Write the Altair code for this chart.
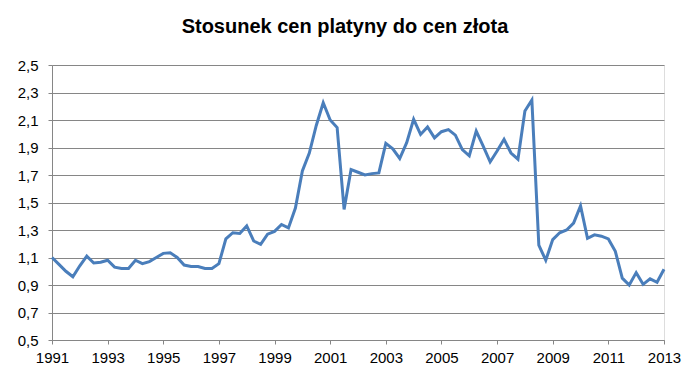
import altair as alt
import pandas as pd

title_text = "Stosunek cen platyny do cen złota"

start_year = 1991
# quarterly ratio values, 1991 Q1 .. 2013 Q1
ratio = [
    1.10, 1.05, 1.00, 0.96,
    1.04, 1.11, 1.06, 1.065,
    1.08, 1.03, 1.02, 1.02,
    1.08, 1.055, 1.07, 1.10,
    1.13, 1.135, 1.10, 1.045,
    1.035, 1.035, 1.02, 1.02,
    1.055, 1.235, 1.28, 1.275,
    1.33, 1.22, 1.195, 1.27,
    1.29, 1.34, 1.315, 1.46,
    1.73, 1.86, 2.06, 2.225,
    2.10, 2.045, 1.45, 1.74,
    1.72, 1.70, 1.71, 1.715,
    1.93, 1.89, 1.82, 1.935,
    2.105, 1.995, 2.05, 1.97,
    2.015, 2.03, 1.99, 1.885,
    1.84, 2.02, 1.91, 1.795,
    1.875, 1.96, 1.86, 1.815,
    2.165, 2.245, 1.19, 1.08,
    1.23, 1.28, 1.30, 1.35,
    1.475, 1.24, 1.265, 1.255,
    1.235, 1.145, 0.95, 0.90,
    0.99, 0.905, 0.945, 0.92,
    1.015,
]
x_ticks = [1991, 1993, 1995, 1997, 1999, 2001, 2003, 2005, 2007, 2009, 2011, 2013]
y_ticks = [0.5, 0.7, 0.9, 1.1, 1.3, 1.5, 1.7, 1.9, 2.1, 2.3, 2.5]

df = pd.DataFrame({
    "t": [start_year + i / 4 for i in range(len(ratio))],
    "v": ratio,
})

font = "Liberation Sans"
grey = "#868686"

chart = alt.Chart(df).mark_line(color="#4a7ebb", strokeWidth=3).encode(
    x=alt.X("t:Q",
            scale=alt.Scale(domain=[1991, 2013], nice=False),
            axis=alt.Axis(values=x_ticks, format="d", grid=False, title=None,
                          domainColor=grey, tickColor=grey, tickSize=4,
                          labelFont=font, labelFontSize=15, labelColor="#000000",
                          labelPadding=6, labelFlush=False)),
    y=alt.Y("v:Q",
            scale=alt.Scale(domain=[0.5, 2.5], nice=False, zero=False),
            axis=alt.Axis(values=y_ticks, title=None,
                          labelExpr="replace(format(datum.value, '.1f'), '.', ',')",
                          grid=True, gridColor=grey, gridOpacity=1,
                          domainColor=grey, tickColor=grey, tickSize=4,
                          labelFont=font, labelFontSize=15, labelColor="#000000",
                          labelPadding=10)),
).properties(
    width=612,
    height=275,
    title=alt.TitleParams(title_text, font=font, fontSize=20, fontWeight="bold",
                          color="#000000", anchor="middle", frame="group",
                          dx=-13, offset=21),
    autosize=alt.AutoSizeParams(type="none"),
    padding={"left": 52, "top": 65, "right": 26, "bottom": 43},
).configure_view(strokeWidth=0).configure(background="#ffffff")

chart.save("out.html", embed_options={"renderer": "svg", "actions": False})
